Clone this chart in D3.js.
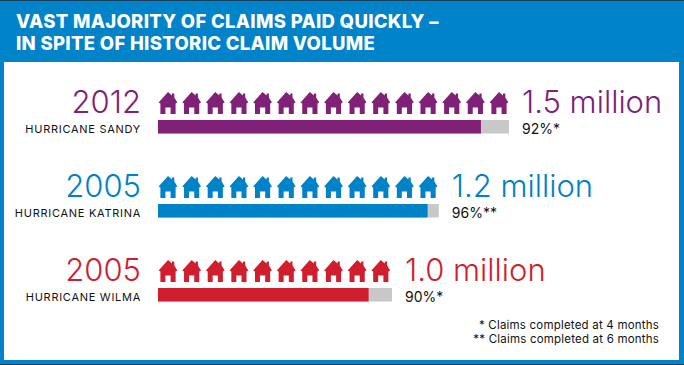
<!DOCTYPE html>
<html>
<head>
<meta charset="utf-8">
<script src="https://cdn.jsdelivr.net/npm/d3@7"></script>
<style>
  html, body { margin: 0; padding: 0; background: #fff; }
  svg { display: block; }
  text { font-family: Inter, "Open Sans", sans-serif; }
</style>
</head>
<body>
<div id="chart"></div>
<script>
const title_lines = ['VAST MAJORITY OF CLAIMS PAID QUICKLY –', 'IN SPITE OF HISTORIC CLAIM VOLUME'];
const years = ['2012', '2005', '2005'];
const storms = ['HURRICANE SANDY', 'HURRICANE KATRINA', 'HURRICANE WILMA'];
const claims = [1.5, 1.2, 1.0];
const claim_labels = ['1.5 million', '1.2 million', '1.0 million'];
const paid = [0.92, 0.96, 0.90];
const paid_labels = ['92%*', '96%**', '90%*'];
const colors = ['#7f2277', '#0082c6', '#cf1f2e'];
const notes = ['* Claims completed at 4 months', '** Claims completed at 6 months'];

const width = 684;
const height = 365;
const bar_height = 13.5;
const house_step = 0.1; // one house per 100k claims

const svg = d3.select('#chart').append('svg')
  .attr('width', width)
  .attr('height', height);

// frame
svg.append('rect')
  .attr('width', width).attr('height', height)
  .attr('fill', '#0083c9');
svg.append('rect')
  .attr('width', width).attr('height', 1)
  .attr('fill', '#16405c');
svg.append('rect')
  .attr('y', height - 1).attr('width', width).attr('height', 1)
  .attr('fill', '#16405c');
svg.append('rect')
  .attr('x', 4).attr('y', 62).attr('width', 675).attr('height', 298)
  .attr('fill', '#fff');

svg.selectAll('text.title')
  .data(title_lines)
  .join('text')
  .attr('class', 'title')
  .attr('x', 16)
  .attr('y', (d, i) => 28 + i * 22)
  .attr('fill', '#fff')
  .attr('font-size', 18.5)
  .attr('font-weight', 800)
  .attr('letter-spacing', 0.32)
  .text(d => d);

const x = d3.scaleLinear([0, 1.5], [158, 509]);
const y = d3.scalePoint(storms, [120, 288]);
// houses sit a touch wider apart than the bar units
const house_x = d3.scaleLinear([0, 1.4], [168, 499]);

// little house icon, origin at its top centre
const house = function () {
  const p = d3.path();
  p.moveTo(0, 0);
  p.lineTo(4, 3.5);
  p.lineTo(4, 1.5);
  p.lineTo(6.3, 1.5);
  p.lineTo(6.3, 5.5);
  p.lineTo(9.4, 10.5);
  p.lineTo(7.6, 11.5);
  p.lineTo(7.6, 22);
  p.lineTo(2.6, 22);
  p.lineTo(2.6, 15.5);
  p.lineTo(-2.6, 15.5);
  p.lineTo(-2.6, 22);
  p.lineTo(-7.6, 22);
  p.lineTo(-7.6, 11.5);
  p.lineTo(-9.4, 10.5);
  p.closePath();
  return p.toString();
};

const rows = svg.selectAll('g.row')
  .data(storms.map((d, i) => ({
    storm: d, year: years[i], claims: claims[i], claim_label: claim_labels[i],
    paid: paid[i], paid_label: paid_labels[i], color: colors[i]
  })))
  .join('g')
  .attr('class', 'row')
  .attr('transform', d => `translate(0,${y(d.storm)})`);

rows.append('text')
  .attr('x', 141)
  .attr('y', -7)
  .attr('text-anchor', 'end')
  .attr('fill', d => d.color)
  .attr('font-size', 31)
  .attr('font-weight', 300)
  .text(d => d.year);

rows.append('text')
  .attr('x', 141)
  .attr('y', 13)
  .attr('text-anchor', 'end')
  .attr('fill', '#111')
  .attr('font-size', 11)
  .attr('letter-spacing', 0.72)
  .text(d => d.storm);

rows.selectAll('path.house')
  .data(d => d3.range(Math.round(d.claims / house_step)).map(k => ({ k, color: d.color })))
  .join('path')
  .attr('class', 'house')
  .attr('d', house())
  .attr('fill', d => d.color)
  .attr('transform', d => `translate(${house_x(d.k * house_step)},-28)`);

rows.append('rect')
  .attr('x', x(0))
  .attr('width', d => x(d.claims) - x(0))
  .attr('height', bar_height)
  .attr('fill', '#c8c8c8');

rows.append('rect')
  .attr('x', x(0))
  .attr('width', d => x(d.claims * d.paid) - x(0))
  .attr('height', bar_height)
  .attr('fill', d => d.color);

rows.append('text')
  .attr('x', d => x(d.claims) + 13)
  .attr('y', -7)
  .attr('fill', d => d.color)
  .attr('font-size', 31)
  .attr('font-weight', 300)
  .text(d => d.claim_label);

rows.append('text')
  .attr('x', d => x(d.claims) + 13)
  .attr('y', 13.5)
  .attr('fill', '#111')
  .attr('font-size', 14)
  .text(d => d.paid_label);

svg.selectAll('text.note')
  .data(notes)
  .join('text')
  .attr('class', 'note')
  .attr('x', 659)
  .attr('y', (d, i) => 329 + i * 14)
  .attr('text-anchor', 'end')
  .attr('fill', '#111')
  .attr('font-size', 11.5)
  .attr('letter-spacing', 0.2)
  .text(d => d);
</script>
</body>
</html>
